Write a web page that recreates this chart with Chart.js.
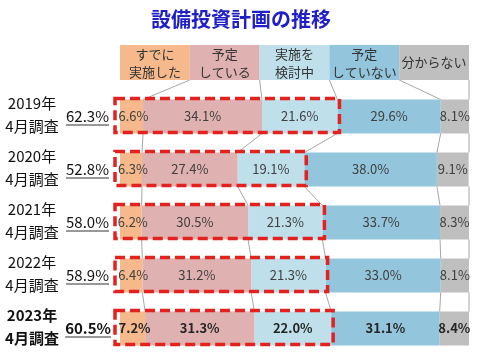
<!DOCTYPE html>
<html>
<head>
<meta charset="utf-8">
<title>設備投資計画の推移</title>
<script src="https://cdn.jsdelivr.net/npm/chart.js@4"></script>
<style>
  body { margin: 0; background: #fff; }
  #wrap { position: relative; width: 480px; height: 361px; }
</style>
</head>
<body>
<div id="wrap"><canvas id="gr1" width="480" height="361"></canvas></div>
<script>
// data
const years = ['2019年', '2020年', '2021年', '2022年', '2023年'];
const surveyLabel = '4月調査';
const totals = [62.3, 52.8, 58.0, 58.9, 60.5];
const seriesNames = [['すでに', '実施した'], ['予定', 'している'], ['実施を', '検討中'], ['予定', 'していない'], ['分からない']];
const already = [6.6, 6.3, 6.2, 6.4, 7.2];
const planned = [34.1, 27.4, 30.5, 31.2, 31.3];
const considering = [21.6, 19.1, 21.3, 21.3, 22.0];
const notPlanned = [29.6, 38.0, 33.7, 33.0, 31.1];
const unknown = [8.1, 9.1, 8.3, 8.1, 8.4];
const colors = ['#F5B98C', '#DFB2B1', '#BFDFEA', '#93C6DC', '#BFBFBF'];

const FONT = '"Noto Sans CJK JP", "Noto Sans", sans-serif';
const series = [already, planned, considering, notPlanned, unknown];

// everything that isn't a bar: title, header, connectors, dashed boxes, labels
const decor = {
  id: 'decor',
  afterDatasetsDraw(chart) {
    const ctx = chart.ctx;
    const xs = chart.scales.x;
    const ca = chart.chartArea;
    const bars = chart.getDatasetMeta(0).data;
    const last = years.length - 1;

    ctx.save();
    // title
    ctx.fillStyle = '#2020C8';
    ctx.font = 'bold 20px ' + FONT;
    ctx.textAlign = 'center';
    ctx.textBaseline = 'middle';
    ctx.fillText('設備投資計画の推移', 241, 19);

    // header boxes
    const hx0 = ca.left, hw = (ca.right - ca.left) / 5, hTop = 45, hBot = 80;
    for (let i = 0; i < 5; i++) {
      ctx.fillStyle = colors[i];
      ctx.fillRect(hx0 + i * hw, hTop, hw, hBot - hTop);
      ctx.fillStyle = '#333';
      ctx.font = '13px ' + FONT;
      const lines = seriesNames[i];
      const cx = hx0 + i * hw + hw / 2;
      if (lines.length === 1) ctx.fillText(lines[0], cx, (hTop + hBot) / 2);
      else {
        ctx.fillText(lines[0], cx, hTop + 9);
        ctx.fillText(lines[1], cx, hTop + 27);
      }
    }

    // boundary positions for each bar
    const bounds = years.map((y, r) => {
      let c = 0;
      const b = [];
      for (let s = 0; s < 4; s++) { c += series[s][r]; b.push(xs.getPixelForValue(c)); }
      b.push(ca.right);
      return b;
    });
    const half = r => bars[r].height / 2;

    // connectors
    ctx.strokeStyle = '#A6A6A6';
    ctx.lineWidth = 1;
    ctx.beginPath();
    for (let k = 0; k < 5; k++) {
      ctx.moveTo(hx0 + (k + 1) * hw, hBot);
      ctx.lineTo(bounds[0][k], bars[0].y - half(0));
    }
    for (let r = 0; r < last; r++) {
      for (let k = 0; k < 5; k++) {
        ctx.moveTo(bounds[r][k], bars[r].y + half(r));
        ctx.lineTo(bounds[r + 1][k], bars[r + 1].y - half(r + 1));
      }
    }
    ctx.stroke();

    // dashed boxes around the first three segments
    ctx.strokeStyle = '#E3211F';
    ctx.lineWidth = 3.5;
    ctx.setLineDash([10, 5]);
    for (let r = 0; r <= last; r++) {
      const top = bars[r].y - half(r) - 1;
      const bot = bars[r].y + half(r) - 1;
      const left = 115;
      const right = xs.getPixelForValue(totals[r]) + 2;
      ctx.strokeRect(left, top, right - left, bot - top);
    }
    ctx.setLineDash([]);

    // value labels
    for (let r = 0; r <= last; r++) {
      const bold = r === last;
      ctx.font = (bold ? 'bold ' : '') + '13px ' + FONT;
      ctx.fillStyle = bold ? '#262626' : '#404040';
      let c = 0;
      for (let s = 0; s < 5; s++) {
        const v = series[s][r];
        const mid = xs.getPixelForValue(c + v / 2);
        c += v;
        ctx.textAlign = 'center';
        ctx.fillText(v.toFixed(1) + '%', s === 0 ? mid + 2 : mid, bars[r].y);
      }

      // left labels
      ctx.fillStyle = '#111';
      ctx.font = (bold ? 'bold ' : '') + '15px ' + FONT;
      ctx.textAlign = 'center';
      ctx.fillText(years[r], 32, bars[r].y - 13);
      ctx.fillText(surveyLabel, 32, bars[r].y + 10);

      ctx.font = (bold ? 'bold ' : '') + '15px ' + FONT;
      ctx.textAlign = 'right';
      const t = totals[r].toFixed(1) + '%';
      const tr = bold ? 111 : 109;
      ctx.fillText(t, tr, bars[r].y);
      const w = ctx.measureText(t).width;
      ctx.strokeStyle = '#333';
      ctx.lineWidth = 1;
      ctx.beginPath();
      ctx.moveTo(tr - w, bars[r].y + 8.5);
      ctx.lineTo(tr, bars[r].y + 8.5);
      ctx.stroke();
    }
    ctx.restore();
  }
};

const datasets = series.map((d, i) => ({
  label: seriesNames[i].join(''),
  data: d,
  backgroundColor: colors[i],
  borderWidth: 0,
  barPercentage: 0.64,
  categoryPercentage: 1
}));

new Chart(document.getElementById('gr1'), {
  type: 'bar',
  data: { labels: years, datasets },
  options: {
    indexAxis: 'y',
    responsive: false,
    animation: false,
    layout: { padding: { left: 120, right: 11, top: 90, bottom: 6 } },
    scales: {
      x: { stacked: true, min: 0, max: 100, display: false },
      y: { stacked: true, display: false }
    },
    plugins: { legend: { display: false }, tooltip: { enabled: false } }
  },
  plugins: [decor]
});
</script>
</body>
</html>
